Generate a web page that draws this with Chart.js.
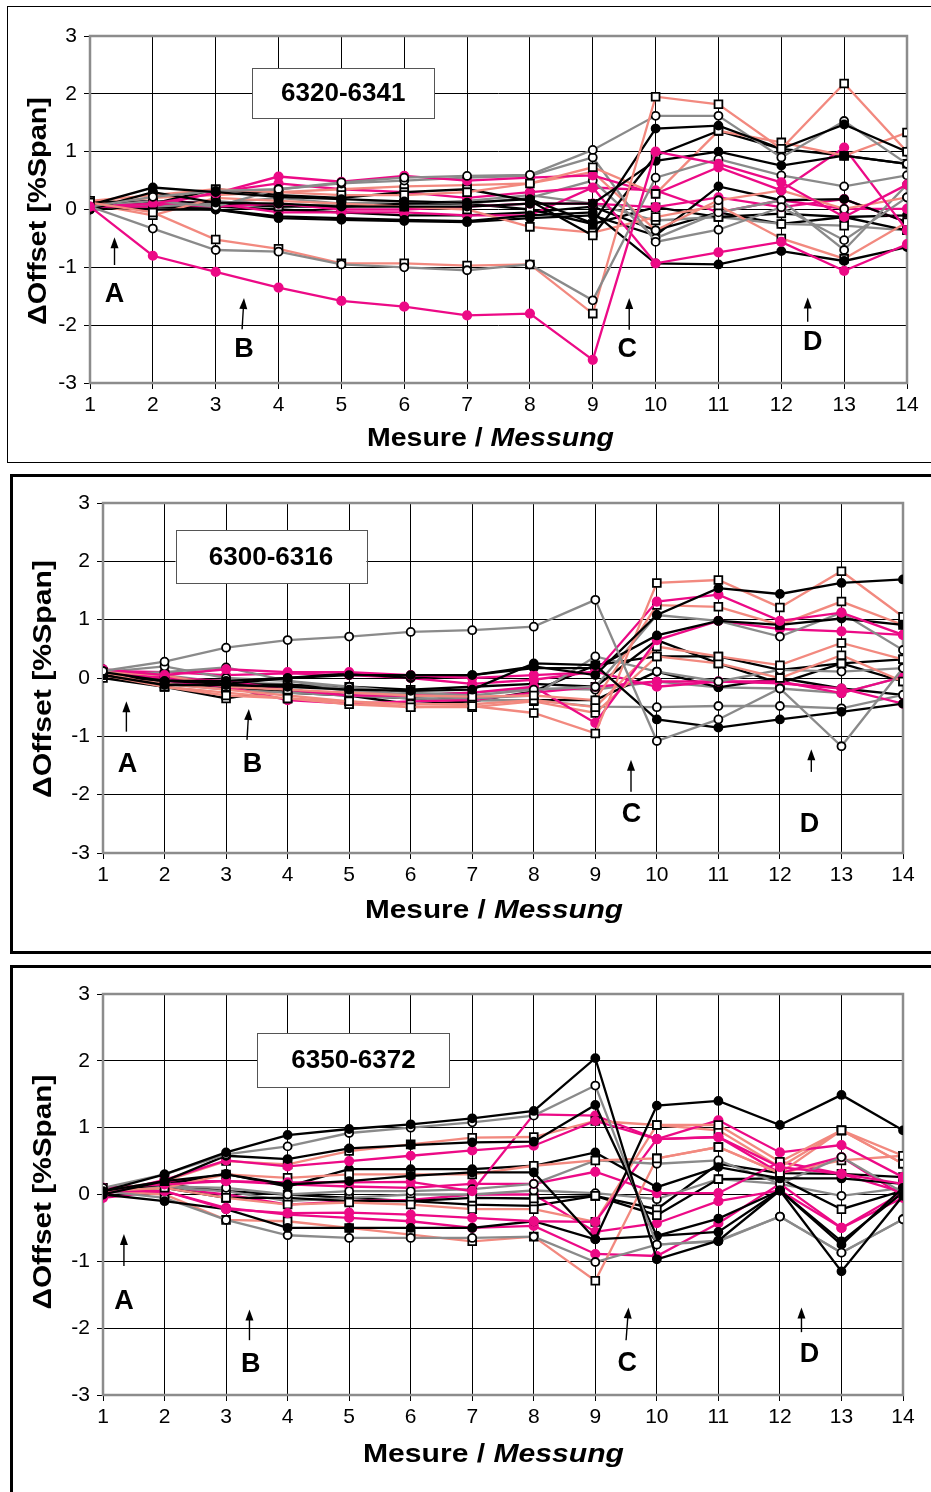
<!DOCTYPE html>
<html>
<head>
<meta charset="utf-8">
<script src="https://cdn.jsdelivr.net/npm/chart.js@4.4.0/dist/chart.umd.min.js"></script>
<style>
  html, body { margin: 0; padding: 0; background: #fff; }
  body { width: 931px; height: 1492px; position: relative; overflow: hidden; }
  .frame { position: absolute; box-sizing: border-box; border: solid #000; }
  .wrap { position: absolute; left: 0; width: 931px; }
  canvas { display: block; }
</style>
</head>
<body>
<div class="frame" style="left:7px;top:6px;width:940px;height:457px;border-width:1px;"></div>
<div class="frame" style="left:10px;top:474px;width:940px;height:480px;border-width:3px;"></div>
<div class="frame" style="left:10px;top:965px;width:940px;height:540px;border-width:3px;"></div>
<div class="wrap" style="top:0;height:470px"><canvas id="c1" width="931" height="470"></canvas></div>
<div class="wrap" style="top:470px;height:490px"><canvas id="c2" width="931" height="490"></canvas></div>
<div class="wrap" style="top:960px;height:532px"><canvas id="c3" width="931" height="532"></canvas></div>

<script>
// Messungen 1..14
const measures = [1, 2, 3, 4, 5, 6, 7, 8, 9, 10, 11, 12, 13, 14];
const panelTitles = ['6320-6341', '6300-6316', '6350-6372'];
const letters = ['A', 'B', 'C', 'D'];

// kf = schwarz/gefüllt, go = grau/offener Kreis, ss = lachs/Quadrat, mf = magenta/gefüllt
// ks = schwarz/Quadrat, gs = grau/Quadrat, so = lachs/offener Kreis
const p1Kinds = ['mf','go','ss','kf','go','kf','ss','mf','go','ks','so','mf','kf','ss','go','kf','mf','ks','mf','gs','kf'];
const p1Values = [
  [0.05,-0.80,-1.08,-1.35,-1.58,-1.68,-1.83,-1.80,-2.60,1.00,0.79,0.47,-0.13,0.43],
  [0.05,-0.33,-0.70,-0.73,-0.95,-1.00,-1.05,-0.95,-1.57,0.55,0.87,0.59,0.40,0.59],
  [0.12,-0.05,-0.52,-0.68,-0.93,-0.93,-0.97,-0.95,-1.80,1.95,1.82,1.05,2.18,1.00],
  [0.08,0.38,0.30,0.22,0.18,0.14,0.12,0.18,-0.24,1.40,1.45,1.05,1.47,1.00],
  [0.05,0.22,0.32,0.35,0.47,0.55,0.58,0.60,1.03,1.62,1.62,0.90,1.53,0.79],
  [0.00,0.30,0.12,0.10,0.05,0.05,0.05,0.10,0.10,0.84,1.00,0.76,0.93,0.79],
  [0.15,0.25,0.35,0.30,0.25,0.25,0.30,0.45,0.73,0.27,1.36,1.16,0.93,1.33],
  [0.05,0.10,0.28,0.57,0.48,0.58,0.50,0.55,0.59,0.27,0.73,0.33,1.07,-0.36],
  [0.05,0.15,0.05,0.35,0.45,0.50,0.55,0.58,0.90,-0.56,-0.35,0.04,-0.53,0.21],
  [0.15,0.10,0.35,0.25,0.20,0.30,0.35,0.15,-0.45,0.93,1.36,1.05,0.93,0.79],
  [0.10,0.20,0.25,0.30,0.35,0.40,0.42,0.45,0.65,-0.36,0.16,0.33,0.01,0.21],
  [0.05,0.05,0.30,0.45,0.35,0.30,0.20,0.30,0.38,-0.93,-0.74,-0.56,-1.06,-0.60],
  [0.05,0.00,0.00,-0.12,-0.15,-0.18,-0.20,-0.10,-0.05,-0.93,-0.95,-0.72,-0.89,-0.65],
  [0.10,-0.10,0.20,0.15,0.10,0.05,0.00,-0.30,-0.40,-0.13,0.07,-0.50,-0.85,-0.22],
  [0.05,0.05,0.10,0.20,0.10,0.15,0.10,0.20,0.50,-0.50,-0.05,0.16,-0.70,0.43],
  [0.00,0.05,0.00,-0.15,-0.18,-0.20,-0.22,-0.15,-0.10,-0.45,0.40,0.16,0.18,-0.22],
  [0.05,0.10,0.05,0.10,0.00,0.00,0.05,0.10,0.10,0.04,0.21,0.04,0.18,-0.22],
  [0.10,0.15,0.10,0.05,0.05,0.10,0.10,0.00,-0.25,0.04,-0.13,-0.07,-0.13,-0.36],
  [0.05,0.15,0.10,-0.05,-0.05,-0.05,-0.10,-0.10,0.38,0.33,-0.05,0.16,0.01,0.01],
  [0.05,0.10,0.15,0.05,0.10,0.10,0.15,0.25,0.10,-0.19,-0.13,-0.25,-0.28,-0.36],
  [0.05,0.05,0.05,0.00,-0.05,-0.10,-0.10,-0.05,0.05,-0.36,-0.05,-0.25,-0.13,-0.10]
];

const p2Kinds = ['go','kf','kf','ss','mf','kf','ss','go','mf','ss','ss','go','mf','mf','go','ks','kf','ks','go'];
const p2Values = [
  [0.12,0.28,0.52,0.65,0.71,0.79,0.82,0.88,1.34,-1.08,-0.71,-0.18,-1.17,0.17],
  [0.05,-0.12,-0.12,-0.15,-0.20,-0.22,-0.20,0.25,0.22,-0.71,-0.85,-0.71,-0.58,-0.44],
  [0.10,-0.05,-0.10,0.00,0.05,0.05,0.05,0.20,0.05,1.08,1.54,1.44,1.63,1.69],
  [0.10,-0.15,-0.30,-0.35,-0.40,-0.50,-0.48,-0.60,-0.95,1.63,1.68,1.21,1.83,1.05],
  [0.15,0.05,0.15,0.10,0.10,0.05,0.00,0.05,0.10,1.31,1.43,0.98,1.12,0.74],
  [0.05,-0.05,-0.05,0.00,0.08,0.00,0.05,0.17,0.17,0.73,0.98,0.91,1.02,0.91],
  [0.10,0.05,-0.15,-0.20,-0.25,-0.30,-0.32,-0.30,-0.38,1.25,1.22,0.91,1.31,0.91],
  [0.10,0.20,0.00,-0.05,-0.15,-0.25,-0.30,-0.20,-0.15,1.08,0.98,0.71,1.12,0.48],
  [0.10,0.00,-0.05,-0.20,-0.30,-0.30,-0.25,-0.15,-0.77,0.65,0.98,0.84,0.80,0.74],
  [0.05,-0.10,-0.20,-0.30,-0.40,-0.45,-0.45,-0.38,-0.50,0.54,0.37,0.22,0.60,0.32],
  [0.05,-0.15,-0.25,-0.35,-0.45,-0.50,-0.50,-0.40,-0.60,0.37,0.25,0.00,0.39,-0.06],
  [0.05,0.10,0.18,-0.05,-0.20,-0.30,-0.35,-0.30,0.37,0.11,-0.06,0.14,0.11,0.17],
  [0.10,-0.05,-0.15,-0.38,-0.44,-0.40,-0.38,-0.25,-0.15,-0.06,-0.06,-0.09,-0.18,-0.44],
  [0.12,0.10,0.05,0.08,0.05,0.00,-0.10,-0.03,0.11,-0.15,-0.06,-0.06,-0.26,0.02],
  [0.05,-0.10,-0.20,-0.25,-0.30,-0.35,-0.38,-0.38,-0.49,-0.50,-0.48,-0.48,-0.52,-0.29],
  [0.00,-0.15,-0.35,-0.20,-0.30,-0.45,-0.40,-0.23,0.22,0.37,0.37,0.14,0.25,-0.06],
  [0.15,-0.10,-0.15,-0.25,-0.30,-0.35,-0.38,-0.38,-0.38,0.11,-0.16,0.00,-0.18,-0.29],
  [0.05,0.00,-0.10,-0.12,-0.15,-0.20,-0.15,-0.10,-0.15,0.65,0.25,-0.09,0.25,0.32],
  [0.12,0.05,-0.08,-0.10,-0.22,-0.28,-0.25,-0.18,-0.20,-0.06,-0.16,-0.18,-0.26,0.02]
];

const p3Kinds = ['kf','go','kf','kf','mf','ss','mf','ss','kf','go','mf','kf','go','ss','mf','ss','mf','ks','go','mf','ks'];
const p3Values = [
  [0.05,0.30,0.63,0.89,0.98,1.05,1.14,1.25,2.04,-0.97,-0.69,0.06,-1.15,-0.02],
  [0.10,0.30,0.60,0.72,0.92,1.00,1.08,1.18,1.63,-0.75,-0.70,-0.33,-0.87,-0.37],
  [0.00,0.20,0.30,0.15,0.20,0.28,0.33,0.33,-0.67,1.33,1.40,1.04,1.49,0.96],
  [0.05,0.20,0.58,0.53,0.69,0.74,0.78,0.79,1.34,-0.62,-0.36,0.06,-0.75,0.10],
  [0.00,0.22,0.51,0.42,0.50,0.58,0.66,0.73,1.10,0.83,0.86,0.41,0.31,0.16],
  [0.05,0.20,0.50,0.45,0.65,0.75,0.85,0.86,1.10,1.04,1.04,0.49,0.96,0.58],
  [0.10,0.15,0.20,0.18,0.18,0.19,0.05,1.20,1.18,0.83,1.11,0.63,0.74,0.26],
  [0.05,0.10,0.30,0.25,0.30,0.30,0.30,0.43,0.51,0.54,0.71,0.32,0.96,0.46],
  [0.05,0.15,0.31,0.12,0.38,0.38,0.38,0.43,0.63,0.11,0.41,0.24,0.24,0.16],
  [0.05,0.12,0.10,0.00,0.05,0.05,0.08,0.16,0.51,0.46,0.51,0.16,0.56,0.03],
  [0.05,0.05,-0.22,-0.28,-0.27,-0.30,-0.35,-0.40,-0.41,0.83,0.86,0.32,0.56,-0.02],
  [0.00,-0.10,-0.22,-0.50,-0.50,-0.50,-0.50,-0.40,-0.67,-0.62,-0.56,0.06,-0.70,0.03],
  [0.05,-0.05,-0.38,-0.61,-0.65,-0.65,-0.65,-0.63,-1.01,-0.75,-0.69,-0.33,-0.87,-0.37],
  [0.05,0.00,-0.38,-0.40,-0.50,-0.60,-0.70,-0.63,-1.29,0.54,0.71,0.32,0.51,0.58],
  [-0.05,0.05,-0.20,-0.30,-0.35,-0.40,-0.50,-0.47,-0.89,-0.92,-0.43,0.16,-0.50,0.03],
  [0.05,0.10,-0.05,-0.15,-0.12,-0.15,-0.22,-0.22,-0.41,1.04,0.96,0.41,0.96,0.46],
  [0.00,0.20,0.20,0.15,0.12,0.10,0.16,0.16,0.34,0.02,0.02,0.49,0.31,0.03],
  [0.05,0.10,-0.05,-0.05,-0.10,-0.10,-0.05,-0.06,-0.02,-0.31,0.23,0.24,-0.22,0.06],
  [0.10,0.10,0.05,-0.10,-0.05,0.00,0.00,0.06,0.02,-0.07,0.23,0.16,-0.02,0.10],
  [0.10,0.10,0.00,-0.15,-0.10,-0.08,0.00,0.00,-0.56,-0.43,-0.10,0.06,-0.50,-0.05],
  [0.10,0.15,0.05,0.00,-0.05,-0.10,-0.15,-0.17,-0.02,-0.22,0.46,0.32,0.31,0.26]
];

const FONT = '"Liberation Sans", Arial, sans-serif';
const MAGENTA = '#ec0a86';
const SALMON = '#f2897f';
const GREY = '#8a8a8a';

const kindStyle = {
  kf: { line: '#000', fill: '#000', edge: '#000', shape: 'circle', r: 4 },
  go: { line: GREY, fill: '#fff', edge: '#000', shape: 'circle', r: 4 },
  ko: { line: '#000', fill: '#fff', edge: '#000', shape: 'circle', r: 4 },
  so: { line: SALMON, fill: '#fff', edge: '#000', shape: 'circle', r: 4 },
  ss: { line: SALMON, fill: '#fff', edge: '#000', shape: 'rect', r: 5.5 },
  ks: { line: '#000', fill: '#fff', edge: '#000', shape: 'rect', r: 5.5 },
  gs: { line: GREY, fill: '#fff', edge: '#000', shape: 'rect', r: 5.5 },
  mf: { line: MAGENTA, fill: MAGENTA, edge: MAGENTA, shape: 'circle', r: 4.2 }
};

function makeDatasets(values, kinds) {
  return values.map((vals, i) => {
    const st = kindStyle[kinds[i]];
    return {
      data: vals.map((v, j) => ({ x: measures[j], y: v })),
      borderColor: st.line,
      borderWidth: 2.3,
      pointStyle: st.shape,
      pointRadius: st.r,
      pointBackgroundColor: st.fill,
      pointBorderColor: st.edge,
      pointBorderWidth: 1.8,
      tension: 0
    };
  });
}

function drawStretched(ctx, parts, size, width) {
  let total = 0;
  parts.forEach(p => {
    ctx.font = p.style + ' ' + size + 'px ' + FONT;
    p.w = ctx.measureText(p.text).width;
    total += p.w;
  });
  ctx.scale(width / total, 1);
  let x = 0;
  parts.forEach(p => {
    ctx.font = p.style + ' ' + size + 'px ' + FONT;
    ctx.fillText(p.text, x, 0);
    x += p.w;
  });
}

const decor = {
  id: 'decor',
  beforeDatasetsDraw(chart, args, o) {
    const { ctx, chartArea: a, scales: { x, y } } = chart;
    ctx.save();
    // Rahmen der Zeichenfläche
    ctx.strokeStyle = '#8c8c8c';
    ctx.lineWidth = 2.5;
    ctx.strokeRect(a.left, a.top, a.width, a.height);
    // Titelkasten
    const bx = x.getPixelForValue(o.box.x), by = y.getPixelForValue(o.box.y);
    ctx.fillStyle = '#fff';
    ctx.fillRect(bx - o.box.w / 2, by - o.box.h / 2, o.box.w, o.box.h);
    ctx.strokeStyle = '#555';
    ctx.lineWidth = 1;
    ctx.strokeRect(Math.round(bx - o.box.w / 2) + 0.5, Math.round(by - o.box.h / 2) + 0.5, o.box.w, o.box.h);
    ctx.fillStyle = '#000';
    ctx.font = 'bold 26px ' + FONT;
    ctx.textAlign = 'center';
    ctx.textBaseline = 'middle';
    ctx.fillText(o.title, bx, by + 1);
    ctx.restore();
  },
  afterDatasetsDraw(chart, args, o) {
    const { ctx, scales: { x, y } } = chart;
    ctx.save();
    ctx.fillStyle = '#000';
    ctx.strokeStyle = '#000';
    ctx.lineWidth = 1.4;
    o.marks.forEach((m, i) => {
      const x0 = x.getPixelForValue(m.ax0), y0 = y.getPixelForValue(m.ay0);
      const x1 = x.getPixelForValue(m.ax1), y1 = y.getPixelForValue(m.ay1);
      const ang = Math.atan2(y1 - y0, x1 - x0);
      const hl = 11, hw = 4;
      ctx.beginPath();
      ctx.moveTo(x0, y0);
      ctx.lineTo(x1 - Math.cos(ang) * hl * 0.8, y1 - Math.sin(ang) * hl * 0.8);
      ctx.stroke();
      ctx.beginPath();
      ctx.moveTo(x1, y1);
      ctx.lineTo(x1 - Math.cos(ang) * hl - Math.sin(ang) * hw, y1 - Math.sin(ang) * hl + Math.cos(ang) * hw);
      ctx.lineTo(x1 - Math.cos(ang) * hl + Math.sin(ang) * hw, y1 - Math.sin(ang) * hl - Math.cos(ang) * hw);
      ctx.closePath();
      ctx.fill();
      ctx.font = 'bold 27px ' + FONT;
      ctx.textAlign = 'center';
      ctx.textBaseline = 'middle';
      ctx.fillText(letters[i], x.getPixelForValue(m.tx), y.getPixelForValue(m.ty) + 1);
    });
    ctx.restore();
  },
  afterDraw(chart, args, o) {
    const ctx = chart.ctx;
    ctx.save();
    ctx.fillStyle = '#000';
    ctx.textAlign = 'left';
    ctx.textBaseline = 'alphabetic';
    ctx.translate(o.xTitle.left, o.xTitle.base);
    drawStretched(ctx, [{ text: 'Mesure / ', style: 'bold' }, { text: 'Messung', style: 'italic bold' }], 26, o.xTitle.right - o.xTitle.left);
    ctx.restore();
    ctx.save();
    ctx.fillStyle = '#000';
    ctx.textAlign = 'left';
    ctx.textBaseline = 'alphabetic';
    ctx.translate(o.yTitle.cx, o.yTitle.cy);
    ctx.rotate(-Math.PI / 2);
    ctx.translate(-o.yTitle.len / 2, 0.36 * 25);
    drawStretched(ctx, [{ text: 'ΔOffset [%Span]', style: 'bold' }], 25, o.yTitle.len);
    ctx.restore();
  }
};

const panels = [
  {
    id: 'c1', h: 470, area: { left: 90, top: 36, right: 907, bottom: 383 },
    values: p1Values, kinds: p1Kinds, title: panelTitles[0],
    box: { x: 5.03, y: 2.01, w: 182, h: 50 },
    marks: [
      { ax0: 1.39, ay0: -0.96, ax1: 1.39, ay1: -0.48, tx: 1.39, ty: -1.45 },
      { ax0: 3.42, ay0: -2.07, ax1: 3.45, ay1: -1.53, tx: 3.45, ty: -2.40 },
      { ax0: 9.58, ay0: -2.08, ax1: 9.58, ay1: -1.53, tx: 9.55, ty: -2.40 },
      { ax0: 12.42, ay0: -1.94, ax1: 12.42, ay1: -1.52, tx: 12.5, ty: -2.29 }
    ],
    xTitle: { left: 367, right: 614, base: 446 },
    yTitle: { cx: 37, cy: 211, len: 228 }
  },
  {
    id: 'c2', h: 490, area: { left: 103, top: 33, right: 903, bottom: 383 },
    values: p2Values, kinds: p2Kinds, title: panelTitles[1],
    box: { x: 3.73, y: 2.08, w: 191, h: 53 },
    marks: [
      { ax0: 1.38, ay0: -0.92, ax1: 1.38, ay1: -0.40, tx: 1.40, ty: -1.46 },
      { ax0: 3.34, ay0: -1.06, ax1: 3.37, ay1: -0.53, tx: 3.43, ty: -1.46 },
      { ax0: 9.58, ay0: -1.95, ax1: 9.58, ay1: -1.40, tx: 9.59, ty: -2.32 },
      { ax0: 12.51, ay0: -1.61, ax1: 12.51, ay1: -1.22, tx: 12.48, ty: -2.49 }
    ],
    xTitle: { left: 365, right: 623, base: 448 },
    yTitle: { cx: 42, cy: 209, len: 238 }
  },
  {
    id: 'c3', h: 532, area: { left: 103, top: 34, right: 903, bottom: 435 },
    values: p3Values, kinds: p3Kinds, title: panelTitles[2],
    box: { x: 5.07, y: 2.01, w: 192, h: 54 },
    marks: [
      { ax0: 1.34, ay0: -1.07, ax1: 1.34, ay1: -0.59, tx: 1.34, ty: -1.58 },
      { ax0: 3.38, ay0: -2.18, ax1: 3.38, ay1: -1.72, tx: 3.40, ty: -2.53 },
      { ax0: 9.50, ay0: -2.18, ax1: 9.54, ay1: -1.69, tx: 9.52, ty: -2.51 },
      { ax0: 12.35, ay0: -2.06, ax1: 12.35, ay1: -1.69, tx: 12.48, ty: -2.38 }
    ],
    xTitle: { left: 363, right: 624, base: 502 },
    yTitle: { cx: 42, cy: 232, len: 235 }
  }
];

const gridOpts = { color: '#000', lineWidth: 1, drawTicks: true, tickLength: 6, tickColor: '#000' };
const tickFont = { family: FONT, size: 21 };

panels.forEach(p => {
  new Chart(document.getElementById(p.id), {
    type: 'line',
    data: { datasets: makeDatasets(p.values, p.kinds) },
    plugins: [decor],
    options: {
      responsive: false,
      animation: false,
      events: [],
      layout: { padding: { left: 0, top: p.area.top, right: 931 - p.area.right, bottom: 0 } },
      scales: {
        x: {
          type: 'linear', min: 1, max: 14,
          grid: gridOpts,
          border: { display: false },
          ticks: { stepSize: 1, color: '#000', font: tickFont, padding: 4, maxRotation: 0 },
          afterFit: s => { s.height = p.h - p.area.bottom; }
        },
        y: {
          min: -3, max: 3,
          grid: gridOpts,
          border: { display: false },
          ticks: { stepSize: 1, color: '#000', font: tickFont, padding: 7 },
          afterFit: s => { s.width = p.area.left; }
        }
      },
      plugins: {
        legend: { display: false },
        tooltip: { enabled: false },
        decor: { box: p.box, title: p.title, marks: p.marks, xTitle: p.xTitle, yTitle: p.yTitle }
      }
    }
  });
});
</script>
</body>
</html>
